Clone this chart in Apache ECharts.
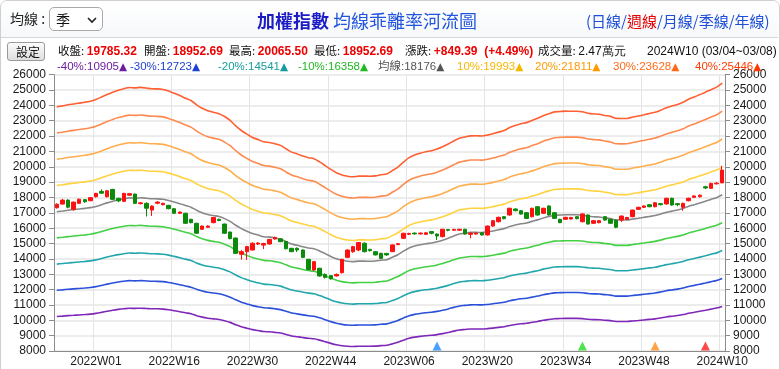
<!DOCTYPE html>
<html><head><meta charset="utf-8">
<script src="https://cdn.jsdelivr.net/npm/echarts/dist/echarts.min.js"></script>
<style>
html,body{margin:0;padding:0;background:#fff;}
body{width:780px;height:369px;position:relative;overflow:hidden;font-family:"Liberation Sans",Arial,"Noto Sans CJK TC",sans-serif;}
#frame{position:absolute;left:0;top:0;width:778px;height:380px;border:1px solid #cfcfcf;border-radius:7px;}
#head{position:absolute;left:1px;top:1px;width:777px;height:36px;border-bottom:1px solid #d6d6d6;background:linear-gradient(#ffffff,#f6f8fa);border-radius:7px 7px 0 0;}
.t{position:absolute;white-space:pre;line-height:1;}
#c{position:absolute;left:0;top:0;width:780px;height:369px;}
.cjk{font-family:"Noto Sans CJK TC","Liberation Sans",sans-serif;}
.num{font-family:"Liberation Sans",Arial,sans-serif;}
.tri{font-family:"DejaVu Sans",sans-serif;font-size:10.5px;}
#sel{position:absolute;left:49px;top:7px;width:54px;height:24px;border:1px solid #a9a9a9;border-radius:5px;background:#fff;box-sizing:border-box;}
#btn{position:absolute;left:7px;top:42px;width:38px;height:19px;border:1px solid #9a9a9a;border-radius:3px;background:linear-gradient(#fbfbfb,#dedede);box-sizing:border-box;}
.lab{color:#111;}
</style></head>
<body>
<div id="c"></div>
<div id="frame"></div>
<div id="head"></div>
<div class="t cjk" style="left:10px;top:11px;font-size:14px;color:#222;">均線 :</div>
<div id="sel"><div class="t cjk" style="left:6px;top:4px;font-size:14px;color:#111;">季</div>
<svg style="position:absolute;left:37px;top:9px" width="10" height="7"><polyline points="1,1 5,5 9,1" fill="none" stroke="#222" stroke-width="1.6"/></svg></div>
<div class="t cjk" style="left:257px;top:11px;font-size:18px;"><span style="color:#1c1cc4;font-weight:bold;">加權指數</span> <span style="color:#2255dd;">均線乖離率河流圖</span></div>
<div class="t cjk" style="left:586px;top:13px;font-size:15px;color:#1f4fd8;">(日線/<span style="color:#e60000;">週線</span>/月線/季線/年線)</div>
<div id="btn"><div class="t cjk" style="left:8px;top:3px;font-size:12px;color:#111;">設定</div></div>
<div id="info"></div>
<div id="legend"></div>
<script>
// ---- data ----
const tickLabels = ['2022W01','2022W16','2022W30','2022W44','2023W06','2023W20','2023W34','2023W48','2024W10'];
const categories = [];
(function () {
  const spans = [[2021, 46, 52], [2022, 1, 52], [2023, 1, 52], [2024, 1, 10]];
  const closedWeeks = ['2022W05'];
  for (const [y, a, b] of spans) for (let w = a; w <= b; w++) {
    const s = y + 'W' + String(w).padStart(2, '0');
    if (!closedWeeks.includes(s)) categories.push(s);
  }
})();
// [open, close, low, high]
const ohlc = [
[17330,17560,17280,17620],[17570,17830,17540,17900],[17830,17370,17300,17880],[17230,17700,17150,17730],
[17620,17890,17580,17920],[17860,17720,17650,17900],[17790,17990,17760,18020],[18050,18270,18000,18300],
[18400,18280,18250,18530],[18050,18440,18000,18480],[18530,17880,17850,18560],[17950,17780,17700,17980],
[17750,18270,17700,18300],[18150,18250,18100,18300],[18220,17620,17580,18260],[17600,17650,17550,17700],
[17620,17300,16760,17680],[17180,17440,16800,17480],[17630,17700,17560,17760],[17530,17620,17480,17660],
[17490,17270,17230,17520],[17270,16970,16930,17300],[16970,17050,16930,17090],[16970,16320,16280,17000],
[16580,16360,16320,16610],[16320,15670,15630,16350],[15930,16140,15890,16170],[16060,16140,16020,16180],
[16360,16700,16320,16730],[16580,16500,16460,16620],[16270,15670,15630,16300],[15750,15320,15280,15780],
[15360,14360,14320,15390],[14300,14470,13950,14580],[14470,14800,13930,14850],[14580,15020,14550,15080],
[14970,15030,14900,15100],[14900,15000,14640,15050],[14970,15270,14940,15300],[15300,15400,15250,15450],
[15310,15120,15100,15350],[15140,14660,14620,15170],[14690,14470,14440,14720],[14690,14580,14450,14750],
[14580,14100,14050,14620],[13970,13310,13250,14000],[13280,13820,13200,13850],[13390,12890,12850,13420],
[12990,12800,12720,13050],[12910,12700,12650,12950],[12890,12990,12850,13050],[13100,13970,13050,14000],
[14100,14580,14050,14620],[14470,14800,14400,14850],[14580,15070,14500,15100],[15020,14470,14420,15080],
[14620,14540,14480,14660],[14470,14260,14220,14500],[14360,14030,13980,14400],[14360,14260,14200,14380],
[14470,14910,14450,14940],[14930,14990,14900,15030],[15340,15670,15300,15700],[15600,15660,15560,15700],
[15680,15630,15580,15720],[15630,15680,15580,15720],[15600,15700,15560,15740],[15780,15670,15600,15800],
[15620,15490,15230,15650],[15450,15930,15400,15960],[15910,15860,15800,15950],[15870,15920,15830,15960],
[15870,15930,15820,15960],[15930,15620,15580,15960],[15600,15680,15340,15720],[15620,15680,15580,15720],
[15700,15560,15520,15740],[15560,16140,15530,16170],[16140,16490,16100,16530],[16420,16710,16380,16750],
[16750,16620,16580,16790],[16860,17300,16820,17330],[17250,17140,17100,17290],[17140,16920,16880,17170],
[17010,16640,16600,17050],[16750,17300,16700,17330],[17400,16860,16820,17440],[16970,17300,16930,17330],
[17450,16860,16820,17480],[17010,16640,16600,17050],[16580,16360,16330,16610],[16580,16710,16540,16740],
[16600,16700,16560,16740],[16750,16620,16580,16790],[16420,16930,16380,16960],[16860,16270,16230,16900],
[16320,16490,16280,16520],[16360,16490,16320,16520],[16750,16530,16500,16780],[16580,16320,16280,16610],
[16530,16060,16000,16560],[16530,16790,16400,16830],[16580,16700,16540,16740],[16750,17180,16710,17210],
[17230,17360,17190,17400],[17360,17450,17320,17490],[17530,17400,17360,17570],[17400,17660,17360,17700],
[17600,17530,17490,17640],[17580,17950,17540,17980],[17950,17510,17460,17990],[17600,17530,17430,17640],
[17360,17620,17140,17660],[17790,17950,17750,17990],[18010,18100,17970,18140],[18050,18150,18000,18200],
[18700,18620,18550,18760],[18600,18920,18560,18960],[18890,18936,18850,19000],[18952.69,19785.32,18952.69,20065.5]
];
// quarterly (13-week) moving average line, grey
const ma = [
17075,17120,17170,17210,17250,17290,17340,17420,17530,17650,17760,17850,17922,17975,17959,17980,
17949,17915,17913,17885,17808,17707,17600,17480,17371,17171,17009,16895,16822,16760,16624,16441,
16190,15975,15808,15652,15552,15448,15417,15360,15282,15125,14969,14885,14791,14710,14660,14513,
14342,14163,14009,13909,13845,13821,13852,13852,13849,13862,13917,13951,14106,14275,14503,14709,
14836,14921,14990,15036,15115,15222,15345,15490,15619,15673,15726,15727,15719,15759,15821,15899,
15972,16111,16204,16285,16341,16446,16542,16666,16757,16840,16857,16874,16873,16873,16845,16778,
16745,16733,16674,16632,16537,16532,16536,16599,16649,16707,16767,16823,16920,17032,17111,17188,
17288,17433,17534,17645,17756,17876,17991,18176
];
// deviation bands (乖離率 %) and their latest values shown in the legend row
const bandPcts = [-40, -30, -20, -10, 10, 20, 30, 40];
const bandColors = ['#7f27b8', '#2a4fd9', '#22a6ad', '#44d044', '#ffd23f', '#ffad4d', '#ff8a4f', '#ff5f32'];
const legendNames = ['-40%', '-30%', '-20%', '-10%', '均線', '10%', '20%', '30%', '40%'];
const legendValues = [10905, 12723, 14541, 16358, 18176, 19993, 21811, 23628, 25446];
const legendColors = ['#6d1f9e', '#1d3fd2', '#169c9c', '#21b821', '#555555', '#f5b700', '#ff9a00', '#ff6a1a', '#ff3a00'];
const legendLefts = [57, 130, 218, 298, 378, 457, 535, 613, 695];
// signal markers on the x axis
const markerIdx = [68, 94, 107, 116];
const markerColors = ['#1e88ff', '#22dd22', '#ff8c1a', '#ff1a1a'];
// header quote
const infoLabels = ['收盤: ', '開盤: ', '最高: ', '最低: ', '漲跌: ', '成交量: ', ''];
const infoValues = ['19785.32', '18952.69', '20065.50', '18952.69', '+849.39  (+4.49%)', '2.47萬元', '2024W10 (03/04~03/08)'];
const infoLefts = [58, 144, 229, 314, 405, 538, 647];

// ---- text rows ----
const info = document.getElementById('info');
infoLabels.forEach((l, i) => {
  const d = document.createElement('div');
  d.className = 't cjk';
  d.style.cssText = 'left:' + infoLefts[i] + 'px;top:45px;font-size:11.5px;';
  const plain = i >= 5;
  d.innerHTML = '<span class="lab">' + l + '</span><span class="num" style="font-size:12px;' +
    (plain ? 'color:#111;' : 'color:#e00;font-weight:bold;') + '">' + infoValues[i] + '</span>';
  info.appendChild(d);
});
const leg = document.getElementById('legend');
legendNames.forEach((n, i) => {
  const d = document.createElement('div');
  d.className = 't cjk';
  d.style.cssText = 'left:' + legendLefts[i] + 'px;top:60px;font-size:11.5px;color:' + legendColors[i] + ';';
  d.innerHTML = (i === 4 ? n + '<span class="num" style="font-size:11.5px;">:' + legendValues[i] + '</span>'
    : '<span class="num" style="font-size:11.5px;">' + n + ':' + legendValues[i] + '</span>') + '<span class="tri">▲</span>';
  leg.appendChild(d);
});

// ---- chart ----
const showTick = (idx, v) => tickLabels.includes(categories[idx] || v);
const series = [];
bandPcts.forEach((p, k) => {
  series.push({
    name: p + '%', type: 'line', symbol: 'none', smooth: 0.3, z: 2,
    data: ma.map(v => Math.round(v * (1 + p / 100))),
    lineStyle: { color: bandColors[k], width: 1.6 }
  });
});
series.push({ name: '均線', type: 'line', symbol: 'none', smooth: 0.3, z: 3, data: ma, lineStyle: { color: '#888888', width: 1.6 } });
series.push({
  name: 'K', type: 'candlestick', z: 5, barWidth: 4, data: ohlc,
  itemStyle: { color: '#ff1010', color0: '#0c8a0c', borderColor: '#ff1010', borderColor0: '#0c8a0c', borderWidth: 1 }
});
series.push({
  name: 'sig', type: 'scatter', z: 6, symbol: 'triangle', symbolSize: [9, 9], symbolOffset: [0, -5],
  data: markerIdx.map((ix, k) => ({ value: [ix, 8000], itemStyle: { color: markerColors[k] } }))
});

const yCommon = {
  type: 'value', min: 8000, max: 26000, interval: 1000,
  axisLine: { show: true, lineStyle: { color: '#8c8c8c', width: 1 } },
  axisTick: { show: true, length: 5, lineStyle: { color: '#8c8c8c' } },
  axisLabel: { color: '#1a1a1a', fontSize: 12, margin: 8, fontFamily: 'Liberation Sans, Arial, sans-serif', formatter: v => String(v) }
};
const chart = echarts.init(document.getElementById('c'), null, { renderer: 'canvas' });
chart.setOption({
  animation: false,
  backgroundColor: 'transparent',
  grid: { left: 54, right: 55, top: 74.7, bottom: 18 },
  xAxis: {
    type: 'category', data: categories, boundaryGap: true,
    axisLine: { lineStyle: { color: '#8c8c8c' } },
    axisTick: { alignWithLabel: true, interval: showTick, length: 4, lineStyle: { color: '#8c8c8c' } },
    axisLabel: { interval: showTick, color: '#1a1a1a', fontSize: 12, margin: 5, fontFamily: 'Liberation Sans, Arial, sans-serif' },
    splitLine: { show: true, interval: showTick, lineStyle: { color: '#e4e4e4', width: 1 } }
  },
  yAxis: [
    Object.assign({}, yCommon, { position: 'left', splitLine: { show: true, lineStyle: { color: '#ececec', width: 2 } } }),
    Object.assign({}, yCommon, { position: 'right', splitLine: { show: false } })
  ],
  series: series
});
</script>
</body></html>
